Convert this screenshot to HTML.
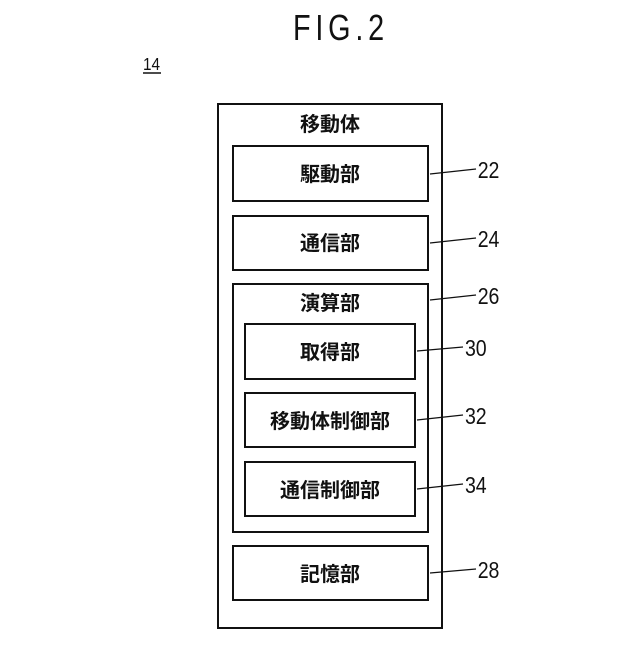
<!DOCTYPE html>
<html><head><meta charset="utf-8"><style>
html,body{margin:0;padding:0;background:#fff;}
svg text{font-family:"Liberation Sans","Noto Sans CJK JP",sans-serif;fill:#111;}
</style></head><body>
<svg width="640" height="640" viewBox="0 0 640 640" xmlns="http://www.w3.org/2000/svg">
<text x="341" y="40" font-size="36" text-anchor="middle" letter-spacing="6" transform="translate(341 0) scale(0.8 1) translate(-341 0)">FIG.2</text>
<text x="143" y="70" font-size="18" transform="translate(143 0) scale(0.85 1) translate(-143 0)">14</text>
<line x1="143" y1="73" x2="161" y2="73" stroke="#111" stroke-width="1.5"/>
<g fill="none" stroke="#111" stroke-width="2">
<rect x="218" y="104" width="224" height="524"/>
<rect x="233" y="146" width="195" height="55"/>
<rect x="233" y="216" width="195" height="54"/>
<rect x="233" y="284" width="195" height="248"/>
<rect x="245" y="324" width="170" height="55"/>
<rect x="245" y="393" width="170" height="54"/>
<rect x="245" y="462" width="170" height="54"/>
<rect x="233" y="546" width="195" height="54"/>
</g>
<g stroke="#111" stroke-width="1.3">
<line x1="430" y1="174" x2="476" y2="169"/>
<line x1="430" y1="243" x2="476" y2="238"/>
<line x1="430" y1="300" x2="476" y2="295"/>
<line x1="417" y1="351" x2="463" y2="347"/>
<line x1="417" y1="420" x2="463" y2="415"/>
<line x1="417" y1="489" x2="463" y2="484"/>
<line x1="430" y1="573" x2="476" y2="569"/>
</g>
<g font-size="23" transform="scale(0.85 1)">
<text x="562" y="178">22</text>
<text x="562" y="247">24</text>
<text x="562" y="304">26</text>
<text x="547" y="356">30</text>
<text x="547" y="424">32</text>
<text x="547" y="493">34</text>
<text x="562" y="578">28</text>
</g>
<g font-size="20" font-weight="bold" text-anchor="middle">
<text x="330" y="131">移動体</text>
<text x="330" y="181">駆動部</text>
<text x="330" y="250">通信部</text>
<text x="330" y="310">演算部</text>
<text x="330" y="359">取得部</text>
<text x="330" y="428">移動体制御部</text>
<text x="330" y="497">通信制御部</text>
<text x="330" y="581">記憶部</text>
</g>
</svg>
</body></html>
